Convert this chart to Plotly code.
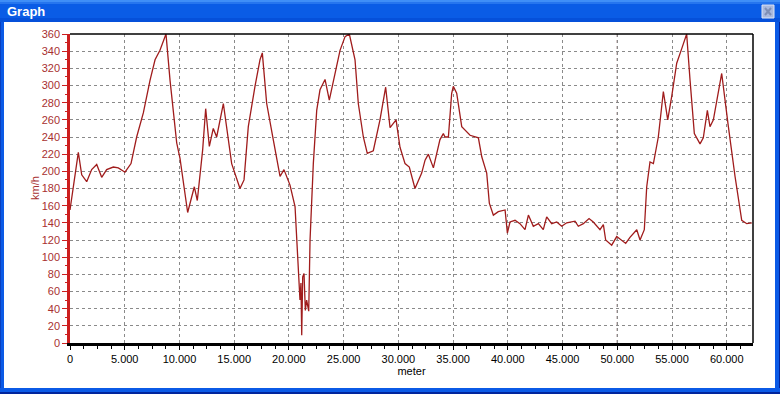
import plotly.graph_objects as go

# ---- data ----
distance_m = [
    0, 300, 760, 1070, 1525, 1980, 2440, 2895, 3350, 3960, 4415, 5025, 5575, 6090,
    6700, 7310, 7770, 8220, 8770, 9140, 9750, 10050, 10750, 11360, 11630, 12120,
    12395, 12730, 13090, 13400, 14010, 14770, 15530, 15900, 16290, 16900, 17360,
    17570, 17970, 18570, 19190, 19550, 20100, 20560, 20860, 21010, 21100, 21170,
    21260, 21380, 21500, 21620, 21810, 21930, 22230, 22540, 22840, 23300, 23690,
    24210, 24670, 25130, 25520, 26040, 26340, 26800, 27160, 27710, 28320, 28840,
    29240, 29790, 30150, 30610, 31000, 31520, 32130, 32440, 32740, 33200, 33800,
    34110, 34260, 34570, 34870, 35020, 35330, 35790, 36550, 37310, 37620, 38070,
    38310, 38680, 39130, 39750, 39960, 40200, 40660, 41110, 41570, 41880, 42330,
    42790, 43240, 43550, 44010, 44470, 44920, 45380, 46140, 46440, 46900, 47420,
    47810, 48420, 48730, 48940, 49490, 49950, 50400, 50770, 51160, 51780, 52080,
    52470, 52690, 52990, 53300, 53750, 54210, 54610, 54970, 55430, 55890, 56340,
    56650, 57040, 57560, 57860, 58230, 58470, 58780, 59540, 60150, 60760, 61370,
    61830, 62290,
]
speed_kmh = [
    155, 182, 222, 196, 188, 202, 208, 193, 202, 205, 204, 199, 209, 240,
    268, 306, 330, 341, 360, 306, 233, 215, 152, 182, 166, 225,
    273, 229, 250, 240, 279, 209, 180, 190, 252, 299, 330,
    338, 279, 237, 194, 202, 184, 159, 93, 50, 70, 9,
    77, 81, 38, 50, 37, 120, 209, 271, 295, 307, 283,
    314, 341, 357, 360, 330, 279, 240, 221, 224, 260, 298,
    251, 260, 228, 209, 205, 180, 198, 213, 220, 204, 237,
    244, 240, 240, 291, 299, 291, 252, 242, 239, 217, 198,
    163, 149, 153, 155, 128, 141, 143, 139, 132, 149, 136,
    139, 132, 147, 139, 141, 136, 140, 142, 136, 139, 145,
    141, 132, 138, 120, 114, 124, 120, 116, 123, 132, 120,
    132, 182, 211, 209, 240, 293, 260, 287, 326, 343, 360,
    306, 244, 232, 239, 271, 252, 260, 314, 252, 194, 143,
    139, 140,
]
x_range = [0, 62400]
y_range = [0, 360]
x_label = "meter"
y_label = "km/h"
window_title = "Graph"

# ---- layout geometry (pixels) ----
W, H = 780, 394
L, R, T, B = 70, 27, 34, 51
PW, PH = W - L - R, H - T - B


def px(p):
    return (p - L) / PW


def py(p):
    return (H - B - p) / PH


fig = go.Figure()
fig.add_trace(go.Scatter(
    x=distance_m, y=speed_kmh, mode="lines",
    line=dict(color="#a01c1c", width=1.3),
    hoverinfo="skip", showlegend=False,
))

shapes = []
# window frame
frame_blue = "#0b5ae6"
title_stripes = [(0, 2, "#3f8ef7"), (2, 4, "#2675ee"), (4, 18, "#0a5ce6"), (18, 22, "#0550da")]
for y0, y1, c in title_stripes:
    shapes.append(dict(type="rect", xref="paper", yref="paper", x0=px(0), x1=px(W),
                       y0=py(y1), y1=py(y0), fillcolor=c, line=dict(width=0), layer="above"))
shapes.append(dict(type="rect", xref="paper", yref="paper", x0=px(0), x1=px(4),
                   y0=py(H), y1=py(22), fillcolor=frame_blue, line=dict(width=0)))
shapes.append(dict(type="rect", xref="paper", yref="paper", x0=px(0), x1=px(1),
                   y0=py(H), y1=py(22), fillcolor="#0a3fbf", line=dict(width=0)))
shapes.append(dict(type="rect", xref="paper", yref="paper", x0=px(775), x1=px(W),
                   y0=py(H), y1=py(22), fillcolor=frame_blue, line=dict(width=0)))
shapes.append(dict(type="rect", xref="paper", yref="paper", x0=px(779), x1=px(W),
                   y0=py(H), y1=py(22), fillcolor="#00249c", line=dict(width=0)))
shapes.append(dict(type="rect", xref="paper", yref="paper", x0=px(0), x1=px(W),
                   y0=py(H), y1=py(388), fillcolor=frame_blue, line=dict(width=0)))
shapes.append(dict(type="rect", xref="paper", yref="paper", x0=px(0), x1=px(W),
                   y0=py(H), y1=py(392), fillcolor="#00249c", line=dict(width=0)))
# close button (disabled look)
shapes.append(dict(type="rect", xref="paper", yref="paper", x0=px(762), x1=px(774),
                   y0=py(18), y1=py(5), fillcolor="#a9b9de", line=dict(color="#dfe6f5", width=1),
                   layer="above"))
for a, b in [((765, 8), (771, 15)), ((771, 8), (765, 15))]:
    shapes.append(dict(type="line", xref="paper", yref="paper", x0=px(a[0]), y0=py(a[1]),
                       x1=px(b[0]), y1=py(b[1]), line=dict(color="#7f8fb5", width=2), layer="above"))
# plot borders (top / right black)
shapes.append(dict(type="line", xref="paper", yref="paper", x0=0, x1=1, y0=1, y1=1,
                   line=dict(color="black", width=1.5), layer="above"))
shapes.append(dict(type="line", xref="paper", yref="paper", x0=1, x1=1, y0=0, y1=1,
                   line=dict(color="black", width=1.5), layer="above"))
# darker marker line at 50.000
shapes.append(dict(type="line", xref="x", yref="paper", x0=50000, x1=50000, y0=0, y1=1,
                   line=dict(color="#5a2a2a", width=1, dash="3px,3px"), layer="below"))

annotations = [
    dict(text="<b>" + window_title + "</b>", xref="paper", yref="paper",
         x=px(5), y=py(11), xanchor="left", yanchor="middle", showarrow=False,
         font=dict(family="Liberation Sans, Arial, sans-serif", size=13, color="white")),
    dict(text=y_label, xref="paper", yref="paper", x=px(35), y=py(188),
         xanchor="center", yanchor="middle", textangle=-90, showarrow=False,
         font=dict(family="Liberation Sans, Arial, sans-serif", size=11, color="#a83030")),
]

fig.update_layout(
    width=W, height=H,
    margin=dict(l=L, r=R, t=T, b=B, pad=0),
    paper_bgcolor="white", plot_bgcolor="white",
    separators=",.",
    shapes=shapes, annotations=annotations,
    font=dict(family="Liberation Sans, Arial, sans-serif", size=11),
    xaxis=dict(
        range=x_range, tick0=0, dtick=5000, tickformat=",d",
        showgrid=True, gridcolor="#8a8a8a", griddash="3px,3px", gridwidth=1,
        zeroline=False, showline=True, linecolor="black", linewidth=2.5,
        ticks="outside", ticklen=4, tickcolor="black", tickwidth=1,
        minor=dict(dtick=1250, ticks="outside", ticklen=3, tickcolor="black", showgrid=False),
        tickfont=dict(size=11, color="black"),
        title=dict(text=x_label, font=dict(size=11, color="black"), standoff=4),
        fixedrange=True,
    ),
    yaxis=dict(
        range=y_range, tick0=0, dtick=20,
        showgrid=True, gridcolor="#8a8a8a", griddash="3px,3px", gridwidth=1,
        zeroline=False, showline=True, linecolor="#cc1f1f", linewidth=2.5,
        ticks="outside", ticklen=5, tickcolor="#cc1f1f", tickwidth=1,
        minor=dict(dtick=10, ticks="outside", ticklen=2, tickcolor="#cc1f1f", showgrid=False),
        tickfont=dict(size=11, color="#a83030"),
        fixedrange=True,
    ),
)

fig.write_html("out.html", config={"displayModeBar": False})
